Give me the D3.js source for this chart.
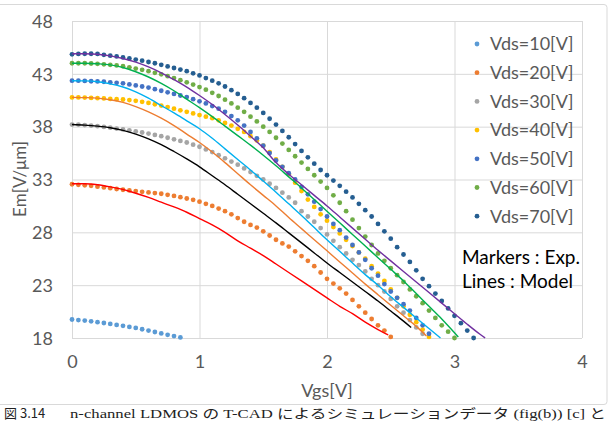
<!DOCTYPE html>
<meta charset="utf-8">
<style>
body { margin: 0; background: #fff; }
svg { display: block; }
.tick text { font-family: Lato, "Liberation Sans", sans-serif; font-size: 18px; fill: #595959; }
</style>
<script src="https://cdn.jsdelivr.net/npm/d3@7"></script>
<body>
<script>

// measured Em [V/um] at Vgs = 0, 0.05, 0.10 ... (markers)
var vgsStep = 0.05;
var exp10 = [19.75,19.7,19.65,19.58,19.5,19.42,19.33,19.24,19.15,19.05,18.95,18.83,18.7,18.57,18.43,18.3,18.18,18.05];
var exp20 = [32.55,32.5,32.45,32.4,32.32,32.25,32.18,32.1,32.03,31.97,31.9,31.83,31.78,31.72,31.65,31.55,31.45,31.33,31.2,31.08,
  30.9,30.7,30.5,30.25,30.0,29.7,29.35,29.0,28.7,28.45,28.1,27.7,27.3,26.95,26.65,26.2,25.75,25.3,24.8,24.2,
  23.6,23.15,22.7,22.2,21.6,21.0,20.4,19.8,19.2,18.7,18.1];
var exp30 = [38.2,38.2,38.15,38.1,38.05,37.98,37.9,37.82,37.74,37.65,37.55,37.45,37.35,37.22,37.1,36.95,36.8,36.65,36.5,36.3,
  36.1,35.85,35.6,35.3,35.0,34.7,34.4,34.05,33.7,33.35,33.0,32.6,32.2,31.75,31.3,30.8,30.0,29.5,29.0,28.4,
  27.8,27.2,26.6,26.0,25.4,24.9,24.3,23.6,23.0,22.4,21.7,21.0,20.4,19.7,19.0,18.4];
var exp40 = [40.77,40.77,40.75,40.72,40.7,40.67,40.63,40.6,40.57,40.52,40.45,40.35,40.25,40.12,40.0,39.85,39.7,39.55,39.4,39.25,
  39.1,38.95,38.8,38.6,38.35,38.1,37.8,37.5,37.1,36.7,36.2,35.6,34.9,34.2,33.5,32.7,31.9,31.1,30.4,29.7,
  29.1,28.5,27.9,27.3,26.7,26.1,25.5,24.8,24.1,23.4,22.6,21.8,21.0,20.2,19.5,18.8,18.1];
var exp50 = [42.35,42.35,42.33,42.3,42.28,42.25,42.2,42.15,42.1,42.0,41.9,41.8,41.7,41.55,41.4,41.25,41.1,40.95,40.8,40.6,
  40.4,40.2,39.95,39.7,39.4,39.0,38.6,38.1,37.5,36.9,36.2,35.5,34.8,34.2,33.6,33.0,32.3,31.6,30.9,30.2,
  29.5,28.8,28.2,27.5,26.8,26.1,25.4,24.6,23.9,23.1,22.4,21.8,21.2,20.6,19.9,19.2,18.4];
var exp60 = [44.0,44.0,44.0,43.98,43.95,43.9,43.85,43.8,43.72,43.62,43.5,43.38,43.25,43.1,42.95,42.78,42.6,42.4,42.2,41.98,
  41.75,41.5,41.2,40.9,40.55,40.2,39.8,39.4,38.95,38.5,38.0,37.5,36.95,36.4,35.8,35.2,34.6,34.0,33.4,32.8,
  32.2,31.5,30.8,30.0,29.2,28.4,27.6,26.8,26.0,25.3,24.6,23.95,23.3,22.6,21.95,21.3,20.6,19.9,19.2,18.6,18.0];
var exp70 = [44.85,44.88,44.9,44.9,44.88,44.8,44.72,44.65,44.55,44.45,44.35,44.25,44.12,44.0,43.85,43.7,43.55,43.4,43.25,43.05,
  42.85,42.6,42.35,42.1,41.8,41.45,41.1,40.7,40.25,39.8,39.3,38.75,38.2,37.6,37.0,36.35,35.7,35.1,34.5,33.9,
  33.4,32.9,32.4,31.85,31.3,30.7,30.1,29.5,28.8,28.1,27.4,26.6,25.9,25.2,24.4,23.6,22.9,22.2,21.5,20.8,
  20.1,19.4,18.7,18.0];

// model curves, [Vgs, Em]
var model20 = [[0,32.6],[0.1,32.6],[0.2,32.5],[0.3,32.3],[0.4,32.05],[0.5,31.7],[0.6,31.3],[0.7,30.85],[0.8,30.4],[0.9,29.9],
  [1.0,29.3],[1.1,28.7],[1.2,28.0],[1.3,27.2],[1.4,26.5],[1.5,25.8],[1.6,25.0],[1.7,24.2],[1.8,23.4],[1.9,22.6],
  [2.0,21.8],[2.1,21.0],[2.2,20.3],[2.3,19.5],[2.4,18.8],[2.48,18.3]];
var model30 = [[0,38.2],[0.1,38.15],[0.2,38.05],[0.3,37.9],[0.4,37.65],[0.5,37.3],[0.6,36.85],[0.7,36.3],[0.8,35.65],[0.9,34.95],
  [1.0,34.2],[1.1,33.35],[1.2,32.5],[1.3,31.6],[1.4,30.7],[1.5,29.8],[1.6,28.9],[1.7,27.95],[1.8,27.0],[1.9,26.05],
  [2.0,25.1],[2.1,24.2],[2.2,23.3],[2.3,22.4],[2.4,21.5],[2.5,20.55],[2.6,19.6],[2.66,19.0]];
var model40 = [[0,40.77],[0.1,40.75],[0.2,40.7],[0.3,40.55],[0.4,40.3],[0.5,39.9],[0.6,39.4],[0.7,38.8],[0.8,38.1],[0.9,37.3],
  [1.0,36.5],[1.1,35.6],[1.2,34.6],[1.3,33.55],[1.4,32.5],[1.5,31.5],[1.6,30.5],[1.7,29.4],[1.8,28.35],[1.9,27.3],
  [2.0,26.25],[2.1,25.2],[2.2,24.15],[2.3,23.1],[2.4,22.1],[2.5,21.1],[2.6,20.1],[2.7,19.1],[2.78,18.2]];
var model50 = [[0,42.35],[0.1,42.33],[0.2,42.25],[0.3,42.05],[0.4,41.75],[0.5,41.3],[0.6,40.7],[0.7,40.0],[0.8,39.3],[0.9,38.55],
  [1.0,37.8],[1.1,36.9],[1.2,35.9],[1.3,34.9],[1.4,33.9],[1.5,32.85],[1.6,31.8],[1.7,30.7],[1.8,29.6],[1.9,28.45],
  [2.0,27.3],[2.1,26.2],[2.2,25.1],[2.3,24.0],[2.4,23.0],[2.5,21.9],[2.6,20.9],[2.7,19.9],[2.8,18.9],[2.89,18.0]];
var model60 = [[0,44.0],[0.1,44.0],[0.2,43.95],[0.3,43.85],[0.4,43.6],[0.5,43.2],[0.6,42.7],[0.7,42.1],[0.8,41.4],[0.9,40.6],
  [1.0,39.8],[1.1,38.95],[1.2,38.05],[1.3,37.15],[1.4,36.25],[1.5,35.3],[1.6,34.3],[1.7,33.25],[1.8,32.2],[1.9,31.1],
  [2.0,30.0],[2.1,28.9],[2.2,27.8],[2.3,26.7],[2.4,25.6],[2.5,24.5],[2.6,23.4],[2.7,22.2],[2.8,21.0],[2.9,19.8],
  [3.0,18.5],[3.03,18.1]];
var model70 = [[0,44.9],[0.1,44.9],[0.2,44.85],[0.3,44.7],[0.4,44.45],[0.5,44.1],[0.6,43.65],[0.7,43.1],[0.8,42.45],[0.9,41.75],
  [1.0,40.95],[1.1,40.1],[1.2,39.15],[1.3,38.15],[1.4,37.1],[1.5,36.0],[1.6,34.6],[1.7,33.5],[1.8,32.5],[1.9,31.5],
  [2.0,30.5],[2.1,29.45],[2.2,28.4],[2.3,27.35],[2.4,26.3],[2.5,25.3],[2.6,24.3],[2.7,23.3],[2.8,22.3],[2.9,21.3],
  [3.0,20.3],[3.1,19.3],[3.2,18.35],[3.24,18.0]];

var legendNames = ["Vds=10[V]","Vds=20[V]","Vds=30[V]","Vds=40[V]","Vds=50[V]","Vds=60[V]","Vds=70[V]"];
var markerColors = ["#5b9bd5","#ed7d31","#a5a5a5","#ffc000","#4472c4","#70ad47","#255e91"];
var lineColors = ["#ff0000","#000000","#ed7d31","#00b0f0","#00b050","#7030a0"];
var xTicks = [0,1,2,3,4];
var yTicks = [18,23,28,33,38,43,48];

var expSeries = [exp10, exp20, exp30, exp40, exp50, exp60, exp70];
var modelSeries = [model20, model30, model40, model50, model60, model70];

var w = 612, h = 421;
var svg = d3.select("body").append("svg")
    .attr("width", w)
    .attr("height", h);

svg.append("rect")
  .attr("width", w).attr("height", h)
  .attr("fill", "#fff");

// chart frame
svg.append("rect")
  .attr("x", -3).attr("y", 4.5)
  .attr("width", 610).attr("height", 400)
  .attr("rx", 3)
  .attr("fill", "none")
  .attr("stroke", "#d9d9d9");

var x = d3.scaleLinear().domain([0, 4]).range([72, 582]);
var y = d3.scaleLinear().domain([18, 48]).range([338, 21]);

// gridlines
svg.append("g")
  .attr("transform", "translate(0,338)")
  .call(d3.axisBottom(x).tickValues(xTicks).tickSize(-317).tickFormat(d3.format("d")).tickPadding(17))
  .call(function(g) { g.select(".domain").remove(); })
  .call(function(g) { g.selectAll(".tick line").attr("stroke", "#d9d9d9"); });

svg.append("g")
  .attr("transform", "translate(72,0)")
  .call(d3.axisLeft(y).tickValues(yTicks).tickSize(-510).tickFormat(d3.format("d")).tickPadding(19))
  .call(function(g) { g.select(".domain").remove(); })
  .call(function(g) { g.selectAll(".tick line").attr("stroke", "#d9d9d9"); })
  .call(function(g) { g.selectAll(".tick text").attr("dy", "0.35em"); });

// measured points
expSeries.forEach(function(s, k) {
  svg.append("g")
    .attr("fill", markerColors[k])
    .selectAll("circle")
    .data(s)
    .enter()
    .append("circle")
    .attr("cx", function(d, i) { return x(i * vgsStep); })
    .attr("cy", function(d) { return y(d); })
    .attr("r", 2.4);
});

// model lines
var line = d3.line()
  .x(function(d) { return x(d[0]); })
  .y(function(d) { return y(d[1]); })
  .curve(d3.curveMonotoneX);

modelSeries.forEach(function(s, k) {
  svg.append("path")
    .datum(s)
    .attr("d", line)
    .attr("fill", "none")
    .attr("stroke", lineColors[k])
    .attr("stroke-width", 1.4);
});

// legend
var leg = svg.append("g")
  .selectAll("g")
  .data(legendNames)
  .enter()
  .append("g")
  .attr("transform", function(d, i) { return "translate(477," + (44 + i * 28.7) + ")"; });

leg.append("circle")
  .attr("r", 2.4)
  .attr("fill", function(d, i) { return markerColors[i]; });

leg.append("text")
  .attr("x", 13)
  .attr("dy", "0.35em")
  .attr("font-family", "Lato, 'Liberation Sans', sans-serif")
  .attr("font-size", "18px")
  .attr("fill", "#595959")
  .text(function(d) { return d; });

svg.append("text")
  .attr("x", 462).attr("y", 264)
  .attr("font-family", "Lato, 'Liberation Sans', sans-serif")
  .attr("font-size", "19px")
  .attr("fill", "#000")
  .text("Markers : Exp.");

svg.append("text")
  .attr("x", 462).attr("y", 288)
  .attr("font-family", "Lato, 'Liberation Sans', sans-serif")
  .attr("font-size", "19px")
  .attr("fill", "#000")
  .text("Lines : Model");

// axis titles
svg.append("text")
  .attr("x", 327).attr("y", 397)
  .attr("text-anchor", "middle")
  .attr("font-family", "Lato, 'Liberation Sans', sans-serif")
  .attr("font-size", "18px")
  .attr("fill", "#595959")
  .text("Vgs[V]");

svg.append("text")
  .attr("transform", "translate(26,179) rotate(-90)")
  .attr("text-anchor", "middle")
  .attr("font-family", "Lato, 'Liberation Sans', sans-serif")
  .attr("font-size", "17px")
  .attr("fill", "#595959")
  .text("Em[V/μm]");

// caption
svg.append("text")
  .attr("x", 4).attr("y", 418)
  .attr("font-family", "'Noto Sans CJK JP', sans-serif")
  .attr("font-size", "13px")
  .attr("fill", "#222")
  .text("図 3.14");

svg.append("text")
  .attr("x", 70).attr("y", 418)
  .attr("font-family", "'Liberation Serif', 'Noto Sans CJK JP', serif")
  .attr("font-size", "13px")
  .attr("fill", "#222")
  .attr("textLength", 536)
  .attr("lengthAdjust", "spacingAndGlyphs")
  .text("n-channel LDMOS の T-CAD によるシミュレーションデータ (fig(b)) [c] と");

</script>
</body>
